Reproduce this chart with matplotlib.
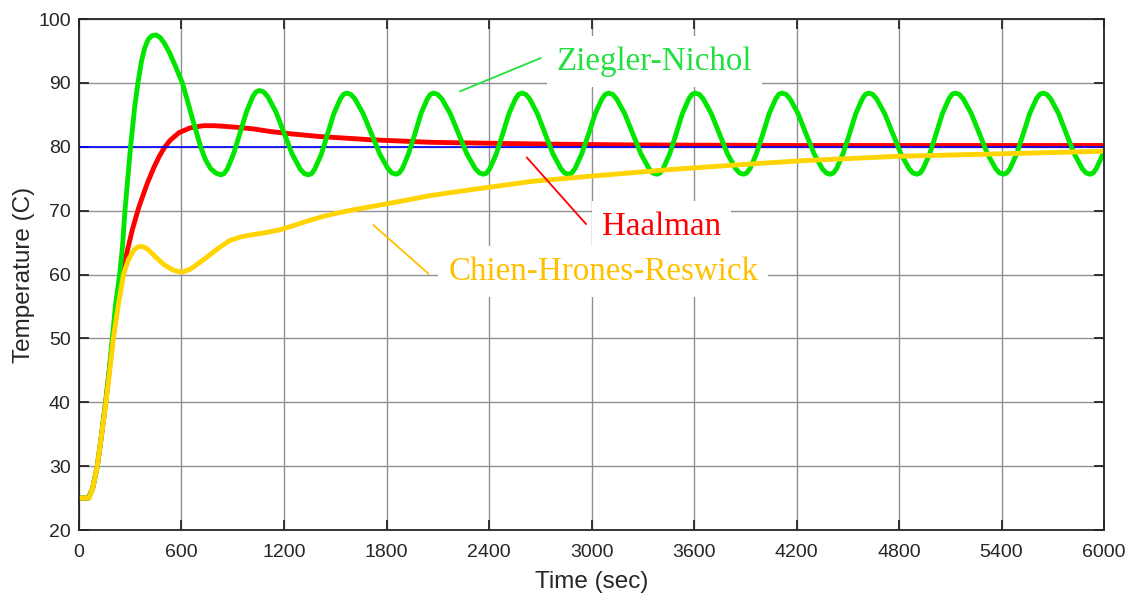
import matplotlib
matplotlib.use("Agg")
import matplotlib.pyplot as plt

# Setpoint (step to 80 C at t=0)
sp_time = [0, 0, 6000]
sp_temp = [20, 80, 80]

# Ziegler-Nichol response
zn_time = [0, 55, 80, 107, 130, 156, 175, 195, 215, 238, 255, 269, 302, 325, 345, 365,
           385, 405, 425, 452, 475, 500, 530, 560, 605, 635, 664, 690, 712, 740, 770, 800, 830,
           849, 868, 905, 943, 981, 1018, 1037, 1056,
           1080, 1104, 1152, 1200, 1247, 1295, 1319, 1343,
           1362, 1380, 1418, 1455, 1492, 1530, 1548, 1567,
           1591, 1615, 1663, 1712, 1760, 1808, 1832, 1856,
           1874, 1893, 1929, 1966, 2002, 2039, 2057, 2075,
           2099, 2124, 2173, 2222, 2270, 2319, 2344, 2368,
           2387, 2405, 2443, 2480, 2517, 2555, 2573, 2592,
           2615, 2638, 2683, 2729, 2774, 2820, 2842, 2865,
           2885, 2904, 2943, 2983, 3022, 3061, 3081, 3100,
           3124, 3147, 3194, 3242, 3289, 3336, 3359, 3383,
           3402, 3420, 3458, 3495, 3532, 3570, 3588, 3607,
           3631, 3654, 3701, 3749, 3796, 3843, 3866, 3890,
           3909, 3928, 3965, 4003, 4040, 4078, 4096, 4115,
           4139, 4162, 4209, 4256, 4303, 4350, 4374, 4397,
           4416, 4435, 4472, 4510, 4547, 4585, 4603, 4622,
           4646, 4669, 4716, 4764, 4811, 4858, 4881, 4905,
           4924, 4942, 4980, 5017, 5054, 5092, 5110, 5129,
           5153, 5176, 5223, 5271, 5318, 5365, 5388, 5412,
           5431, 5450, 5489, 5527, 5565, 5604, 5623, 5642,
           5665, 5688, 5734, 5780, 5826, 5872, 5895, 5918,
           5937, 5955, 5990, 6000]
zn_temp = [25, 25, 26.5, 30, 34.5, 40, 44.5, 50, 55.5, 60, 64.5, 70, 80, 86, 90, 93.3,
           95.5, 96.8, 97.35, 97.5, 97.1, 96.2, 94.7, 92.9, 90.0, 87.2, 84.4, 82.0, 80.0, 78.0, 76.6, 75.9, 75.6,
           75.8, 76.5, 78.9, 82.2, 85.5, 87.9, 88.6, 88.8,
           88.6, 87.9, 85.5, 82.2, 78.9, 76.5, 75.8, 75.6,
           75.8, 76.5, 78.8, 82.0, 85.2, 87.5, 88.2, 88.4,
           88.2, 87.5, 85.2, 82.0, 78.9, 76.6, 75.9, 75.7,
           75.9, 76.6, 78.9, 82.0, 85.2, 87.5, 88.2, 88.4,
           88.2, 87.5, 85.2, 82.0, 78.9, 76.6, 75.9, 75.7,
           75.9, 76.6, 78.9, 82.0, 85.2, 87.5, 88.2, 88.4,
           88.2, 87.5, 85.2, 82.0, 78.9, 76.6, 75.9, 75.7,
           75.9, 76.6, 78.9, 82.0, 85.2, 87.5, 88.2, 88.4,
           88.2, 87.5, 85.2, 82.0, 78.9, 76.6, 75.9, 75.7,
           75.9, 76.6, 78.9, 82.0, 85.2, 87.5, 88.2, 88.4,
           88.2, 87.5, 85.2, 82.0, 78.9, 76.6, 75.9, 75.7,
           75.9, 76.6, 78.9, 82.0, 85.2, 87.5, 88.2, 88.4,
           88.2, 87.5, 85.2, 82.0, 78.9, 76.6, 75.9, 75.7,
           75.9, 76.6, 78.9, 82.0, 85.2, 87.5, 88.2, 88.4,
           88.2, 87.5, 85.2, 82.0, 78.9, 76.6, 75.9, 75.7,
           75.9, 76.6, 78.9, 82.0, 85.2, 87.5, 88.2, 88.4,
           88.2, 87.5, 85.2, 82.0, 78.9, 76.6, 75.9, 75.7,
           75.9, 76.6, 78.9, 82.0, 85.2, 87.5, 88.2, 88.4,
           88.2, 87.5, 85.2, 82.0, 78.9, 76.6, 75.9, 75.7,
           75.9, 76.6, 78.6, 79.2]

# Haalman response
ha_time = [0, 55, 80, 107, 130, 156, 175, 198, 225, 254, 280, 312, 351, 400, 439, 470, 498,
           533, 585, 650, 728, 790, 850, 923, 1020, 1117, 1250, 1410, 1560, 1704, 1879,
           2055, 2400, 2800, 3200, 3600, 4200, 5000, 6000]
ha_temp = [25, 25, 26.5, 30, 34.5, 40, 44.5, 50, 55.5, 60, 63.4, 67.0, 70.6, 74.3, 76.8, 78.5, 79.8,
           81.0, 82.2, 82.95, 83.3, 83.3, 83.2, 83.05, 82.8, 82.4, 82.0, 81.6, 81.35, 81.1, 80.9,
           80.7, 80.55, 80.4, 80.3, 80.25, 80.2, 80.2, 80.2]

# Chien-Hrones-Reswick response
chr_time = [0, 59, 80, 107, 130, 158, 178, 201, 229, 260, 289, 320, 340, 361, 380, 400, 450, 500,
            550, 600, 650, 728, 820, 884, 950, 1020, 1100, 1177, 1260, 1352, 1430, 1508,
            1600, 1704, 1880, 2055, 2300, 2658, 3000, 3443, 3929, 4221, 4787, 5400, 6000]
chr_temp = [25, 25, 26.5, 30, 34.5, 40, 44.5, 50, 55, 60, 62.3, 63.8, 64.25, 64.4, 64.3, 64.0, 62.7, 61.5,
            60.7, 60.35, 60.8, 62.3, 64.2, 65.35, 65.9, 66.25, 66.6, 67.0, 67.7, 68.5, 69.1, 69.6,
            70.1, 70.6, 71.45, 72.35, 73.3, 74.6, 75.4, 76.4, 77.3, 77.8, 78.5, 78.9, 79.3]

x_ticks = list(range(0, 6001, 600))
y_ticks = list(range(20, 101, 10))

fig = plt.figure(figsize=(11.35, 5.94), dpi=100)
ax = fig.add_axes([0.0696, 0.1077, 0.9031, 0.8603])

ax.plot(ha_time, ha_temp, color="#ff0000", lw=3.5, solid_joinstyle="round", zorder=2)
ax.plot(sp_time, sp_temp, color="#0000ff", lw=1.2, zorder=2.1)
ax.plot(zn_time, zn_temp, color="#00e600", lw=3.5, solid_joinstyle="round", zorder=2.2)
ax.plot(chr_time, chr_temp, color="#ffd400", lw=3.5, solid_joinstyle="round", zorder=2.3)

# Annotations
serif = "Liberation Serif"
box = dict(boxstyle="square,pad=0.3", fc="white", ec="none")
ax.annotate("", xy=(2230, 88.67), xytext=(2704, 93.9),
            arrowprops=dict(arrowstyle="-", color="#22e040", lw=1.3, shrinkA=0, shrinkB=0))
ax.text(2796, 92.06, "Ziegler-Nichol", color="#22e040", fontsize=23.8, family=serif,
        ha="left", va="baseline", bbox=box, zorder=4)
ax.annotate("", xy=(2621, 78.33), xytext=(2968, 67.9),
            arrowprops=dict(arrowstyle="-", color="#ff0000", lw=1.3, shrinkA=0, shrinkB=0))
ax.text(3060, 66.23, "Haalman", color="#ff0000", fontsize=23.8, family=serif,
        ha="left", va="baseline", bbox=box, zorder=4)
ax.annotate("", xy=(1723, 67.75), xytext=(2045, 60.13),
            arrowprops=dict(arrowstyle="-", color="#ffc000", lw=1.3, shrinkA=0, shrinkB=0))
ax.text(2162, 59.2, "Chien-Hrones-Reswick", color="#ffc000", fontsize=23.8, family=serif,
        ha="left", va="baseline", bbox=box, zorder=4)

# Format axes
ax.set_xlim(0, 6000)
ax.set_ylim(20, 100)
ax.set_xticks(x_ticks)
ax.set_yticks(y_ticks)
ax.grid(True, color="#8f8f8f", lw=1.0)
ax.set_axisbelow(True)
for s in ax.spines.values():
    s.set_color("#262626")
    s.set_linewidth(1.3)
ax.tick_params(direction="in", length=7, width=1.3, color="#262626",
               top=True, right=True, labelsize=14, labelcolor="#262626")
ax.tick_params(axis="x", pad=10)
ax.tick_params(axis="y", pad=6)
for lab in ax.get_xticklabels() + ax.get_yticklabels():
    lab.set_family("Liberation Sans")
ax.set_xlabel("Time (sec)", fontsize=17.5, family="Liberation Sans", color="#262626", labelpad=7)
ax.set_ylabel("Temperature (C)", fontsize=17.5, family="Liberation Sans", color="#262626", labelpad=2)

fig.savefig("out.png", dpi=100)
